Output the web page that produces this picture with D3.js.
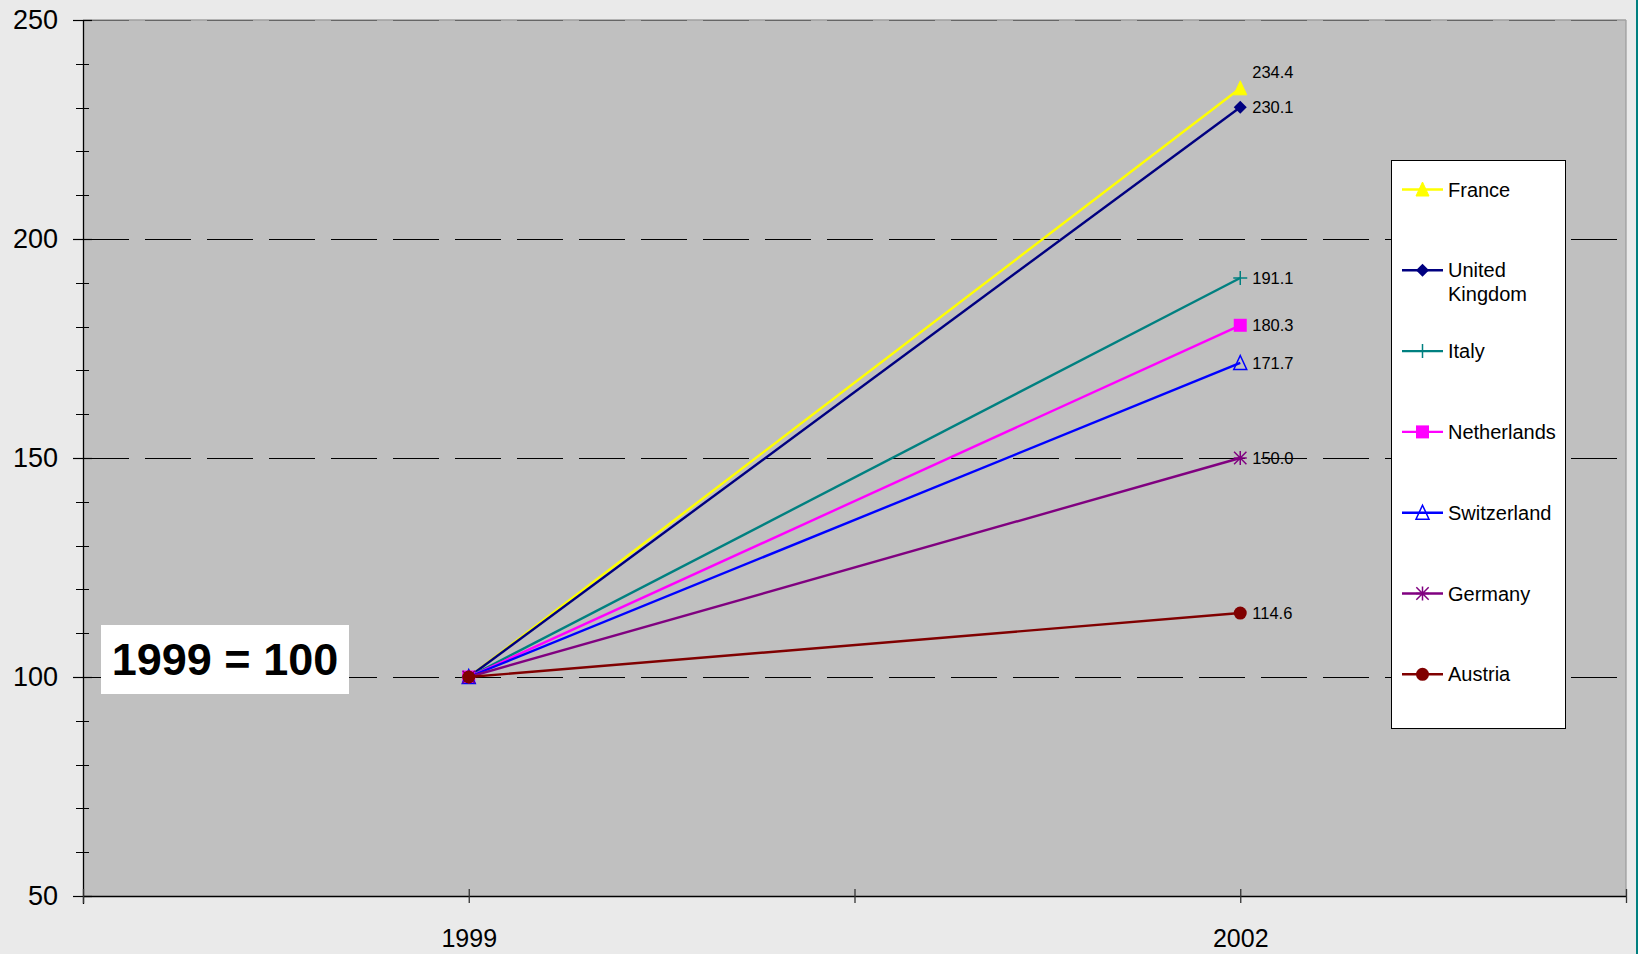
<!DOCTYPE html>
<html>
<head>
<meta charset="utf-8">
<script src="https://cdn.jsdelivr.net/npm/d3@7"></script>
<style>
  html, body { margin: 0; padding: 0; background: #eaeaea; }
  svg { display: block; font-family: "Liberation Sans", Arial, sans-serif; }
</style>
</head>
<body>
<svg id="chart" width="1638" height="954"></svg>
<script>
// Index values, 1999 = 100
const series = ["France", "United Kingdom", "Italy", "Netherlands", "Switzerland", "Germany", "Austria"];
const values1999 = [100, 100, 100, 100, 100, 100, 100];
const values2002 = [234.4, 230.1, 191.1, 180.3, 171.7, 150.0, 114.6];
const colors = ["#ffff00", "#000080", "#008080", "#ff00ff", "#0000ff", "#800080", "#800000"];
const markers = ["triangle", "diamond", "plus", "square", "triangleOpen", "star", "circle"];
const legendLines = [["France"], ["United", "Kingdom"], ["Italy"], ["Netherlands"], ["Switzerland"], ["Germany"], ["Austria"]];

// Category axis: five tick slots, years sit on slots 1 and 3
const xTickLabels = ["", "1999", "", "2002", ""];
const yearSlots = [1, 3];
const yMajorTicks = [50, 100, 150, 200, 250];
const yMinorTicks = d3.range(50, 251, 10);
const yGridTicks = [100, 150, 200, 250];

const svg = d3.select("#chart");
const W = 1638, H = 954;
const plot = { left: 83, right: 1626, top: 20, bottom: 896 };

const x = d3.scaleLinear().domain([0, 4]).range([plot.left, plot.right]);
const y = d3.scaleLinear().domain([50, 250]).range([plot.bottom, plot.top]);

// page background and right frame stripe
svg.append("rect").attr("width", W).attr("height", H).attr("fill", "#eaeaea");
svg.append("rect").attr("x", 1636).attr("y", 0).attr("width", 2).attr("height", H).attr("fill", "#008080");

// plot area
svg.append("rect")
  .attr("x", plot.left).attr("y", plot.top)
  .attr("width", plot.right - plot.left).attr("height", plot.bottom - plot.top)
  .attr("fill", "#c0c0c0");
svg.append("line")
  .attr("x1", plot.right).attr("x2", plot.right)
  .attr("y1", plot.top).attr("y2", plot.bottom)
  .attr("stroke", "#999").attr("stroke-width", 1.2);
svg.append("line")
  .attr("x1", plot.left).attr("x2", plot.right)
  .attr("y1", plot.top).attr("y2", plot.top)
  .attr("stroke", "#a0a0a0").attr("stroke-width", 1.5);

// dashed gridlines
svg.append("g").selectAll("line").data(yGridTicks).join("line")
  .attr("x1", plot.left).attr("x2", plot.right)
  .attr("y1", d => Math.round(y(d)) + 0.5).attr("y2", d => Math.round(y(d)) + 0.5)
  .attr("stroke", d => d === 250 ? "#666" : "#000")
  .attr("stroke-width", 1.2)
  .attr("stroke-dasharray", "46,16");

// y axis with crossing ticks
svg.append("g").selectAll("line").data(yMinorTicks).join("line")
  .attr("x1", plot.left - 7).attr("x2", plot.left + 6)
  .attr("y1", d => Math.round(y(d)) + 0.5).attr("y2", d => Math.round(y(d)) + 0.5)
  .attr("stroke", "#000").attr("stroke-width", 1);

const yAxis = svg.append("g")
  .attr("transform", `translate(${plot.left},0)`)
  .call(d3.axisLeft(y).tickValues(yMajorTicks).tickSize(10).tickPadding(25));
yAxis.select(".domain").attr("stroke", "#000").attr("stroke-width", 1.3)
  .attr("d", `M0.5,${plot.top}V${plot.bottom + 8}`);
yAxis.selectAll(".tick line").attr("x1", 9).attr("x2", -10).attr("stroke", "#000").attr("stroke-width", 1.2);
yAxis.selectAll(".tick text")
  .attr("font-size", 27).attr("fill", "#000")
  .attr("font-family", "'Liberation Sans', Arial, sans-serif")
  .attr("x", -25);

// x axis
const xAxis = svg.append("g")
  .attr("transform", `translate(0,${plot.bottom})`)
  .call(d3.axisBottom(x).tickValues(d3.range(5)).tickFormat(i => xTickLabels[i]).tickSize(7).tickPadding(26));
xAxis.select(".domain").attr("stroke", "#000").attr("stroke-width", 1.5)
  .attr("d", `M${plot.left},0.5H${plot.right}`);
xAxis.selectAll(".tick line").attr("y1", -7).attr("y2", 7).attr("stroke", "#333").attr("stroke-width", 1.3);
xAxis.selectAll(".tick text")
  .attr("font-size", 25).attr("fill", "#000")
  .attr("font-family", "'Liberation Sans', Arial, sans-serif");

// marker shapes
function drawMarker(g, type, color) {
  const r = 6.5;
  if (type === "triangle" || type === "triangleOpen") {
    g.append("path")
      .attr("d", `M0,${-r - 1}L${r},${r}L${-r},${r}Z`)
      .attr("fill", type === "triangle" ? color : "none")
      .attr("stroke", color).attr("stroke-width", type === "triangle" ? 1 : 1.5);
  } else if (type === "diamond") {
    g.append("path").attr("d", `M0,${-r}L${r},0L0,${r}L${-r},0Z`).attr("fill", color);
  } else if (type === "square") {
    g.append("rect").attr("x", -r).attr("y", -r).attr("width", 2 * r).attr("height", 2 * r).attr("fill", color);
  } else if (type === "circle") {
    g.append("circle").attr("r", r).attr("fill", color);
  } else if (type === "plus") {
    g.append("path").attr("d", `M${-r - 0.5},0H${r + 0.5}M0,${-r - 0.5}V${r + 0.5}`)
      .attr("stroke", color).attr("stroke-width", 1.5).attr("fill", "none");
  } else if (type === "star") {
    const d = r * 0.95;
    g.append("path").attr("d", `M0,${-r - 0.5}V${r + 0.5}M${-d},${-d}L${d},${d}M${-d},${d}L${d},${-d}M${-r},0H${r}`)
      .attr("stroke", color).attr("stroke-width", 1.5).attr("fill", "none");
  }
}

// series lines, markers and value labels
const labelShift = [-16, 0, 0, 0, 0, 0, 0];
series.forEach((name, i) => {
  const pts = [values1999[i], values2002[i]].map((v, j) => [x(yearSlots[j]), y(v)]);
  const g = svg.append("g");
  g.append("path")
    .attr("d", d3.line()(pts))
    .attr("fill", "none").attr("stroke", colors[i]).attr("stroke-width", 2.4);
  pts.forEach(p => {
    const m = g.append("g").attr("transform", `translate(${p[0]},${p[1]})`);
    drawMarker(m, markers[i], colors[i]);
  });
});
series.forEach((name, i) => {
  svg.append("text")
    .attr("x", x(yearSlots[1]) + 12)
    .attr("y", y(values2002[i]) + labelShift[i])
    .attr("dy", "0.35em")
    .attr("font-size", 16.5).attr("fill", "#000")
    .text(d3.format(".1f")(values2002[i]));
});

// base-year note
const note = svg.append("g");
note.append("rect").attr("x", 101).attr("y", 625).attr("width", 248).attr("height", 69).attr("fill", "#fff");
note.append("text").attr("x", 225).attr("y", 675).attr("text-anchor", "middle")
  .attr("font-size", 45).attr("font-weight", "bold").attr("fill", "#000")
  .text("1999 = 100");

// legend
const legend = svg.append("g");
legend.append("rect").attr("x", 1391.5).attr("y", 160.5).attr("width", 174).attr("height", 568)
  .attr("fill", "#fff").attr("stroke", "#000").attr("stroke-width", 1);
series.forEach((name, i) => {
  const cy = 189.5 + i * 80.8;
  const item = legend.append("g");
  item.append("line").attr("x1", 1402).attr("x2", 1443).attr("y1", cy).attr("y2", cy)
    .attr("stroke", colors[i]).attr("stroke-width", 2.4);
  const m = item.append("g").attr("transform", `translate(1422.5,${cy})`);
  drawMarker(m, markers[i], colors[i]);
  legendLines[i].forEach((t, k) => {
    item.append("text").attr("x", 1448).attr("y", cy + k * 24).attr("dy", "0.35em")
      .attr("font-size", 20).attr("fill", "#000").text(t);
  });
});
</script>
</body>
</html>
